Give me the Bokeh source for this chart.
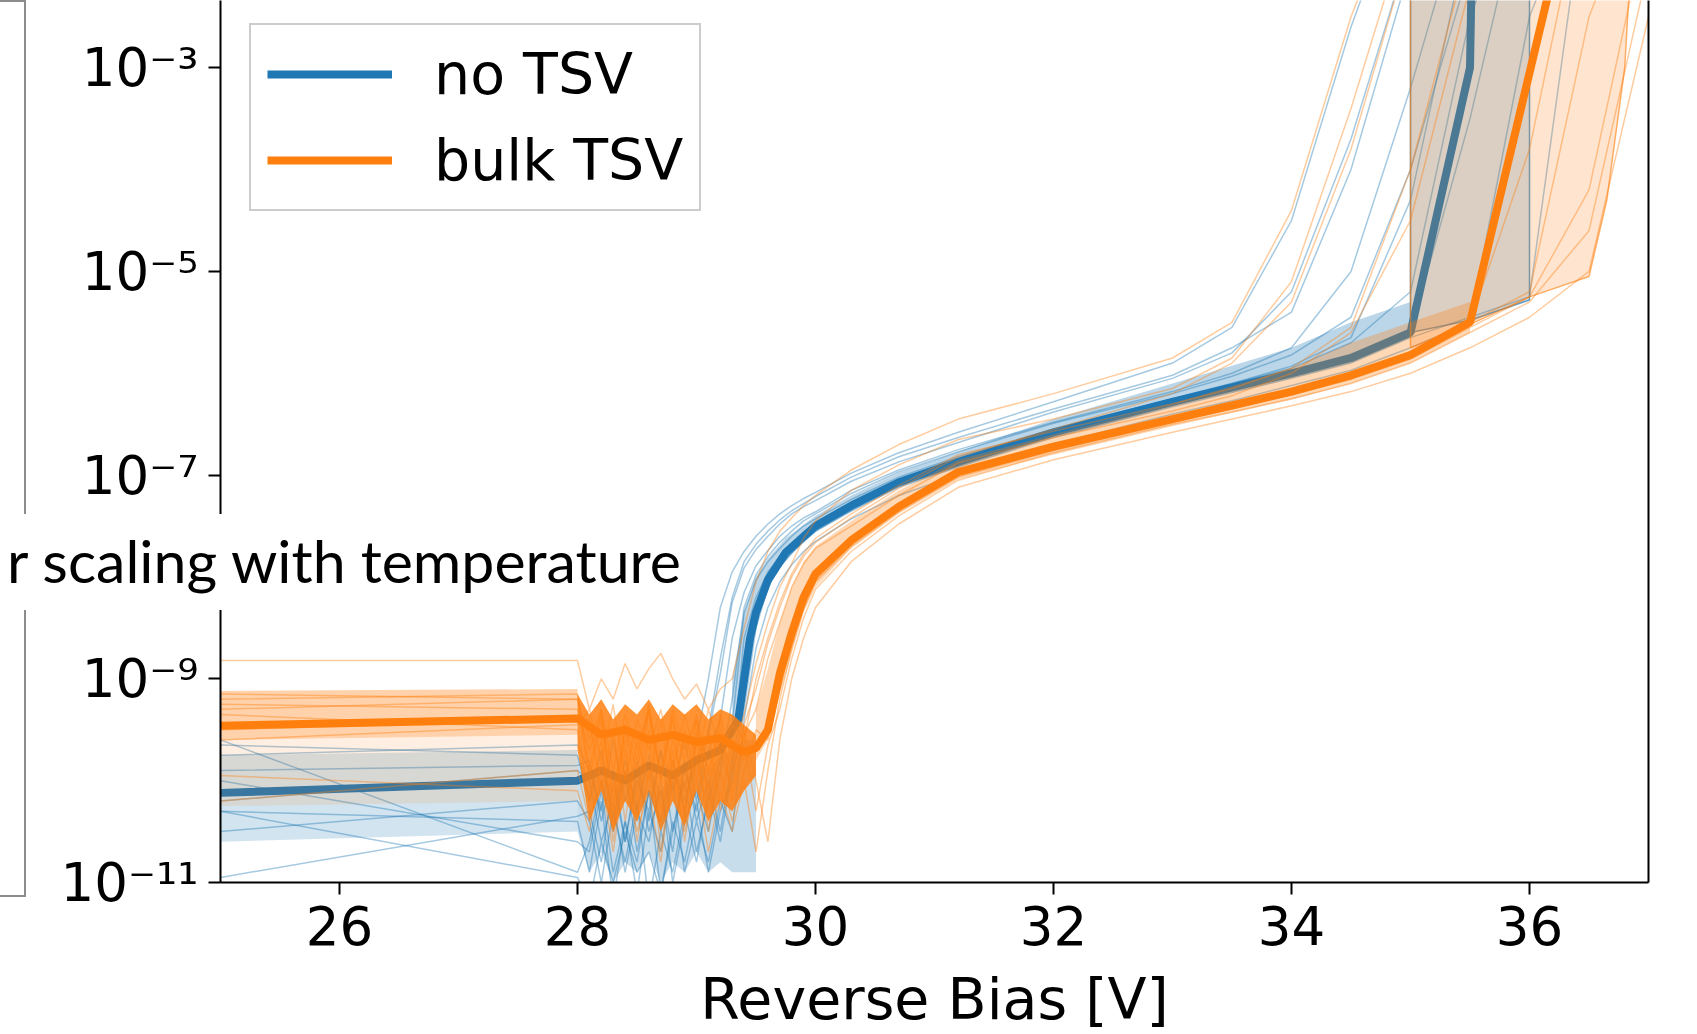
import numpy as np
from bokeh.plotting import figure
from bokeh.layouts import column
from bokeh.models import (Range1d, FixedTicker, CustomJSTickFormatter, LinearAxis,
                          Legend, LegendItem, Div)
from bokeh.embed import file_html
from bokeh.resources import INLINE

BLUE = "#1f77b4"
ORANGE = "#ff7f0e"

# ---------------- data (log10 of current in A) ----------------
voltage_grid = [25.0, 28.0,
                28.1, 28.2, 28.3, 28.4, 28.5, 28.6, 28.7, 28.8, 28.9, 29.0, 29.1, 29.2, 29.3,
                29.4, 29.5, 29.6, 29.7, 29.8, 29.9, 30.0,
                30.3, 30.7, 31.2, 32.0, 33.0, 33.5, 34.0, 34.5, 35.0, 35.5, 36.0, 36.5, 37.0]

no_tsv_curves_log10 = [
    [-9.65, -9.75, -10.2, -9.7, -10.4, -9.8, -10.3, -9.75, -10.5, -9.9, -10.2, -9.8, -9.55, -8.95, -8.25, -7.91, -7.73, -7.6, -7.48, -7.38, -7.31, -7.25, -7.06, -6.87, -6.68, -6.38, -6.05, -5.8, -5.2, -3.7, -1.8, -1.0, -1.0, -1.0, -1.0],
    [-9.9, -9.85, -9.8, -10.4, -9.9, -10.6, -10.0, -10.3, -9.7, -10.5, -9.9, -10.3, -9.7, -9.4, -8.6, -8.15, -7.89, -7.74, -7.6, -7.5, -7.42, -7.36, -7.15, -6.95, -6.75, -6.48, -6.18, -6.0, -5.75, -5.0, -3.2, -1.2, -1.0, -1.0, -1.0],
    [-10.3, -10.4, -10.9, -10.2, -11.2, -10.4, -10.8, -10.1, -11.1, -10.5, -10.0, -10.7, -10.2, -9.8, -9.45, -8.35, -8.03, -7.85, -7.72, -7.6, -7.5, -7.43, -7.24, -7.02, -6.82, -6.55, -6.25, -6.1, -5.95, -5.7, -5.2, -2.5, -1.0, -1.0, -1.0],
    [-10.5, -10.2, -10.4, -11.0, -10.3, -10.8, -10.2, -11.2, -10.5, -10.9, -10.3, -10.8, -10.1, -10.6, -9.9, -9.1, -8.4, -8.08, -7.9, -7.77, -7.65, -7.55, -7.35, -7.12, -6.92, -6.63, -6.33, -6.19, -6.05, -5.9, -5.65, -5.45, -5.25, -1.0, -1.0],
    [-10.0, -10.6, -10.7, -10.1, -10.9, -10.4, -11.1, -10.3, -10.7, -10.0, -10.9, -10.4, -10.8, -10.2, -10.5, -9.4, -8.7, -8.3, -8.05, -7.88, -7.75, -7.65, -7.43, -7.2, -6.99, -6.7, -6.4, -6.27, -6.12, -5.97, -5.75, -5.5, -2.5, -1.0, -1.0],
    [-9.6, -10.9, -10.6, -10.0, -10.5, -9.9, -10.7, -10.1, -10.4, -9.8, -10.3, -9.6, -9.0, -8.3, -7.95, -7.75, -7.6, -7.48, -7.38, -7.3, -7.23, -7.17, -6.98, -6.78, -6.58, -6.28, -5.9, -5.55, -4.5, -2.6, -1.0, -1.0, -1.0, -1.0, -1.0],
    [-10.95, -10.35, -10.3, -10.8, -10.0, -10.6, -9.9, -10.5, -10.1, -10.7, -9.8, -10.4, -10.0, -10.5, -9.8, -8.6, -8.2, -7.95, -7.8, -7.67, -7.56, -7.47, -7.27, -7.05, -6.85, -6.56, -6.25, -6.1, -5.93, -5.65, -4.3, -1.6, -1.0, -1.0, -1.0],
    [-10.2, -9.9, -10.0, -10.6, -10.2, -10.9, -10.3, -10.6, -10.0, -11.0, -10.4, -10.1, -10.5, -9.9, -9.2, -8.3, -7.98, -7.8, -7.66, -7.55, -7.45, -7.38, -7.18, -6.97, -6.77, -6.49, -6.2, -6.03, -5.82, -5.45, -4.0, -2.0, -1.0, -1.0, -1.0],
    [-10.3, -10.95, -11.2, -10.6, -11.0, -10.5, -10.9, -10.7, -11.1, -10.4, -10.8, -10.2, -10.9, -10.3, -10.0, -9.3, -8.5, -8.1, -7.9, -7.76, -7.64, -7.54, -7.33, -7.1, -6.89, -6.6, -6.3, -6.16, -6.02, -5.87, -5.6, -3.5, -1.0, -1.0, -1.0],
    [-9.75, -9.65, -9.9, -10.3, -9.6, -10.2, -9.8, -10.4, -9.7, -10.1, -9.6, -10.2, -9.5, -8.8, -8.2, -7.85, -7.68, -7.55, -7.44, -7.35, -7.28, -7.21, -7.02, -6.82, -6.63, -6.35, -6.02, -5.75, -5.4, -4.0, -2.0, -1.0, -1.0, -1.0, -1.0],
]

bulk_tsv_curves_log10 = [
    [-9.15, -9.2, -9.6, -9.3, -9.9, -9.35, -9.7, -9.3, -10.0, -9.4, -9.8, -9.35, -9.9, -9.5, -9.7, -9.35, -8.85, -8.45, -8.1, -7.87, -7.62, -7.45, -7.15, -6.9, -6.65, -6.45, -6.15, -5.85, -5.1, -3.4, -1.5, -1.0, -1.0, -1.0, -1.0],
    [-9.3, -9.2, -10.0, -9.4, -10.2, -9.5, -9.9, -9.3, -10.3, -9.6, -10.1, -9.4, -10.2, -9.6, -9.9, -9.55, -9.3, -8.8, -8.45, -8.1, -7.87, -7.72, -7.5, -7.2, -6.88, -6.63, -6.37, -6.22, -6.0, -5.6, -4.5, -2.2, -1.0, -1.0, -1.0],
    [-9.5, -9.4, -9.4, -10.1, -9.5, -10.4, -9.6, -10.0, -9.4, -10.2, -9.5, -10.0, -9.5, -10.3, -9.6, -9.8, -9.65, -9.45, -8.95, -8.55, -8.2, -7.97, -7.64, -7.31, -6.98, -6.72, -6.45, -6.32, -6.18, -6.02, -5.82, -5.5, -5.2, -2.5, -1.0],
    [-9.2, -9.15, -9.9, -9.3, -10.5, -9.45, -10.2, -9.3, -9.9, -9.35, -10.4, -9.5, -10.1, -9.4, -10.2, -9.6, -10.3, -9.65, -9.3, -8.8, -8.4, -8.12, -7.75, -7.4, -7.05, -6.78, -6.5, -6.38, -6.25, -6.1, -5.9, -5.6, -5.3, -4.6, -2.0],
    [-9.35, -9.5, -10.2, -9.6, -10.6, -9.7, -10.4, -9.5, -10.7, -9.8, -10.3, -9.6, -10.5, -9.7, -10.1, -9.5, -10.0, -10.6, -9.6, -9.0, -8.6, -8.3, -7.85, -7.48, -7.12, -6.85, -6.58, -6.45, -6.32, -6.18, -6.0, -5.75, -5.45, -5.0, -2.5],
    [-9.6, -9.45, -9.3, -9.8, -9.25, -10.0, -9.4, -9.7, -9.3, -9.9, -9.35, -9.8, -9.3, -9.7, -9.45, -9.6, -9.0, -8.6, -8.25, -7.97, -7.77, -7.62, -7.38, -7.1, -6.8, -6.57, -6.3, -6.15, -5.95, -5.55, -4.0, -1.8, -1.0, -1.0, -1.0],
    [-8.82, -8.82, -9.3, -9.0, -9.2, -8.85, -9.1, -8.9, -8.75, -9.0, -9.2, -9.05, -9.3, -9.1, -9.0, -8.5, -8.05, -7.75, -7.55, -7.42, -7.3, -7.2, -6.95, -6.7, -6.45, -6.2, -5.85, -5.5, -4.4, -2.5, -1.0, -1.0, -1.0, -1.0, -1.0],
    [-9.95, -10.1, -10.5, -9.8, -10.3, -9.6, -10.6, -9.9, -10.4, -9.7, -10.6, -9.8, -10.3, -9.9, -10.4, -9.9, -9.5, -9.6, -9.1, -8.65, -8.3, -8.03, -7.68, -7.34, -7.0, -6.75, -6.47, -6.35, -6.21, -6.06, -5.86, -5.55, -5.25, -4.2, -1.5],
    [-9.25, -9.3, -9.7, -9.35, -10.1, -9.45, -9.8, -9.25, -10.0, -9.3, -9.7, -9.4, -9.95, -9.35, -9.8, -9.45, -9.1, -8.65, -8.3, -8.0, -7.8, -7.66, -7.42, -7.13, -6.82, -6.55, -6.2, -5.9, -5.3, -3.8, -1.8, -1.0, -1.0, -1.0, -1.0],
    [-10.2, -9.9, -10.4, -10.0, -10.7, -9.9, -10.5, -10.1, -10.8, -9.9, -10.5, -10.0, -10.7, -10.1, -10.5, -10.0, -10.7, -9.9, -9.2, -8.7, -8.32, -8.05, -7.7, -7.36, -7.02, -6.76, -6.48, -6.35, -6.2, -6.05, -5.85, -5.5, -3.8, -1.0, -1.0],
]

no_tsv_median_v = [25.0, 28.0, 28.2, 28.4, 28.6, 28.8, 29.0, 29.2, 29.3, 29.35, 29.45, 29.5, 29.6, 29.75,
                   30.0, 30.3, 30.7, 31.2, 32.0, 33.0, 34.0, 34.5, 35.0, 35.5, 35.53]
no_tsv_median_log10 = [-10.12, -10.0, -9.9, -10.0, -9.85, -9.95, -9.8, -9.7, -9.5, -9.41, -8.6, -8.35, -8.03, -7.76,
                       -7.5, -7.3, -7.07, -6.87, -6.58, -6.28, -6.0, -5.85, -5.6, -3.0, -1.0]

bulk_tsv_median_v = [25.0, 28.0, 28.2, 28.4, 28.6, 28.8, 29.0, 29.2, 29.4, 29.5, 29.6, 29.7, 29.8, 29.9,
                     30.0, 30.3, 30.7, 31.2, 32.0, 33.0, 34.0, 34.5, 35.0, 35.5, 36.0, 36.5]
bulk_tsv_median_log10 = [-9.46, -9.39, -9.55, -9.5, -9.6, -9.55, -9.62, -9.58, -9.72, -9.68, -9.5, -8.95, -8.55, -8.2,
                         -7.97, -7.64, -7.31, -6.97, -6.72, -6.45, -6.18, -6.02, -5.82, -5.5, -3.05, -0.6]

# envelopes of the densely overlapping curves
left_band_v = [25.0, 28.0]
bulk_left_lo = [-9.6, -9.55]
bulk_left_hi = [-9.12, -9.1]
mixed_left_lo = [-10.25, -10.2]
mixed_left_hi = [-9.6, -9.55]
no_left_lo = [-10.6, -10.5]
no_left_hi = [-9.75, -9.7]

noise_band_v = [28.0, 28.1, 28.2, 28.3, 28.4, 28.5, 28.6, 28.7, 28.8, 28.9, 29.0, 29.1, 29.2, 29.3, 29.4, 29.5]
bulk_noise_hi = [-9.15, -9.35, -9.2, -9.4, -9.25, -9.35, -9.2, -9.4, -9.25, -9.35, -9.25, -9.4, -9.3, -9.35, -9.45, -9.55]
bulk_noise_lo = [-9.7, -10.4, -10.1, -10.5, -10.2, -10.4, -10.1, -10.5, -10.2, -10.45, -10.1, -10.4, -10.2, -10.3, -10.1, -9.95]
no_noise_hi = [-9.75, -10.0, -9.9, -10.1, -9.9, -10.0, -9.85, -10.1, -9.9, -10.0, -9.8, -9.9, -9.75, -9.7, -9.6, -9.6]
no_noise_lo = [-10.5, -10.9, -10.7, -11.0, -10.8, -10.9, -10.7, -11.0, -10.8, -10.9, -10.7, -10.9, -10.8, -10.9, -10.9, -10.9]

no_core_v = [29.3, 29.4, 29.5, 29.6, 29.75, 30.0, 30.3, 30.7, 31.2, 32.0, 33.0, 34.0, 34.5, 35.0]
no_core_hi = [-9.0, -8.35, -8.0, -7.82, -7.62, -7.4, -7.2, -6.98, -6.77, -6.45, -6.1, -5.75, -5.5, -5.3]
no_core_lo = [-9.6, -9.2, -8.45, -8.1, -7.82, -7.56, -7.36, -7.12, -6.92, -6.63, -6.33, -6.05, -5.9, -5.65]

bulk_core_v = [29.5, 29.6, 29.7, 29.8, 29.9, 30.0, 30.3, 30.7, 31.2, 32.0, 33.0, 34.0, 34.5, 35.0, 35.5]
bulk_core_hi = [-9.3, -8.9, -8.45, -8.1, -7.85, -7.7, -7.45, -7.15, -6.85, -6.6, -6.3, -5.95, -5.7, -5.5, -5.3]
bulk_core_lo = [-9.8, -9.6, -9.15, -8.75, -8.35, -8.1, -7.72, -7.38, -7.04, -6.8, -6.52, -6.26, -6.1, -5.9, -5.6]

# spread bands at breakdown
no_tsv_band_v = [35.0, 35.0, 35.5, 36.0, 36.0]
no_tsv_band_log10 = [-1.0, -5.6, -5.48, -5.28, -1.0]
bulk_tsv_band_v = [35.0, 35.0, 35.5, 36.0, 36.5, 36.65, 36.8, 36.9]
bulk_tsv_band_log10 = [-1.0, -5.75, -5.52, -5.25, -5.05, -4.3, -3.0, -1.0]

x_ticks = [26, 28, 30, 32, 34, 36]
y_tick_exponents = [-11, -9, -7, -5, -3]
y_tick_labels = ["10\u207b\u00b9\u00b9", "10\u207b\u2079", "10\u207b\u2077", "10\u207b\u2075", "10\u207b\u00b3"]
series_labels = ["no TSV", "bulk TSV"]
caption_text = "r scaling with temperature"


def cur(a):
    return list(10.0 ** np.asarray(a, dtype=float))


# ---------------- figure ----------------
p = figure(width=1697, height=1034, x_range=Range1d(25, 37), y_range=Range1d(1e-11, 10 ** -2.34),
           y_axis_type="log", output_backend="svg", toolbar_location=None,
           min_border_left=220, min_border_right=49, min_border_top=0, min_border_bottom=152)
p.outline_line_color = None
p.grid.visible = False
p.background_fill_color = "white"
p.border_fill_color = "white"

# no TSV group
p.varea(x=left_band_v, y1=cur(no_left_lo), y2=cur(no_left_hi), fill_color=BLUE, fill_alpha=0.2)
p.varea(x=noise_band_v, y1=cur(no_noise_lo), y2=cur(no_noise_hi), fill_color=BLUE, fill_alpha=0.25)
p.varea(x=no_core_v, y1=cur(no_core_lo), y2=cur(no_core_hi), fill_color=BLUE, fill_alpha=0.3)
p.multi_line(xs=[voltage_grid] * len(no_tsv_curves_log10), ys=[cur(c) for c in no_tsv_curves_log10],
             line_color=BLUE, line_alpha=0.4, line_width=1.5)
p.patch(x=no_tsv_band_v, y=cur(no_tsv_band_log10), fill_color=BLUE, fill_alpha=0.2,
        line_color=BLUE, line_alpha=0.7, line_width=1.5)
blue_med = p.line(no_tsv_median_v, cur(no_tsv_median_log10), line_color=BLUE, line_width=8)

# bulk TSV group
p.varea(x=left_band_v, y1=cur(mixed_left_lo), y2=cur(mixed_left_hi), fill_color=ORANGE, fill_alpha=0.12)
p.varea(x=left_band_v, y1=cur(bulk_left_lo), y2=cur(bulk_left_hi), fill_color=ORANGE, fill_alpha=0.35)
p.varea(x=bulk_core_v, y1=cur(bulk_core_lo), y2=cur(bulk_core_hi), fill_color=ORANGE, fill_alpha=0.3)
p.multi_line(xs=[voltage_grid] * len(bulk_tsv_curves_log10), ys=[cur(c) for c in bulk_tsv_curves_log10],
             line_color=ORANGE, line_alpha=0.4, line_width=1.5)
p.varea(x=noise_band_v, y1=cur(bulk_noise_lo), y2=cur(bulk_noise_hi), fill_color=ORANGE, fill_alpha=0.85)
p.patch(x=bulk_tsv_band_v, y=cur(bulk_tsv_band_log10), fill_color=ORANGE, fill_alpha=0.2,
        line_color=ORANGE, line_alpha=0.6, line_width=1.5)
orange_med = p.line(bulk_tsv_median_v, cur(bulk_tsv_median_log10), line_color=ORANGE, line_width=8)

# ---------------- axes ----------------
xa = p.xaxis[0]
xa.ticker = FixedTicker(ticks=x_ticks, minor_ticks=[])
xa.axis_label = "Reverse Bias [V]"
xa.axis_label_text_font = "DejaVu Sans"
xa.axis_label_text_font_size = "57px"
xa.axis_label_text_font_style = "normal"
xa.axis_label_text_color = "black"
xa.axis_label_standoff = 18
xa.major_label_text_font = "DejaVu Sans"
xa.major_label_text_font_size = "53px"
xa.major_label_text_color = "black"
xa.major_label_standoff = 11
xa.major_tick_out = 12
xa.major_tick_in = 0
xa.minor_tick_out = 0
xa.minor_tick_in = 0
xa.axis_line_width = 2
xa.major_tick_line_width = 2
xa.axis_line_color = "black"

ya = p.yaxis[0]
ya.ticker = FixedTicker(ticks=[10.0 ** e for e in y_tick_exponents], minor_ticks=[])
ya.formatter = CustomJSTickFormatter(args=dict(exps=y_tick_exponents, labels=y_tick_labels), code="""
    const e = Math.round(Math.log10(tick));
    const i = exps.indexOf(e);
    return i >= 0 ? labels[i] : "";
""")
ya.major_label_text_font = "DejaVu Sans"
ya.major_label_text_font_size = "53px"
ya.major_label_text_color = "black"
ya.major_label_standoff = 10
ya.major_tick_out = 12
ya.major_tick_in = 0
ya.minor_tick_out = 0
ya.minor_tick_in = 0
ya.axis_line_width = 2
ya.major_tick_line_width = 2
ya.axis_line_color = "black"

right_spine = LinearAxis(ticker=FixedTicker(ticks=[]), major_label_text_font_size="0px",
                         major_tick_out=0, major_tick_in=0, minor_tick_out=0, minor_tick_in=0,
                         major_label_standoff=0, axis_line_width=2, axis_line_color="black")
p.add_layout(right_spine, "right")

# ---------------- legend ----------------
legend = Legend(items=[LegendItem(label=series_labels[0], renderers=[blue_med]),
                       LegendItem(label=series_labels[1], renderers=[orange_med])],
                location=(29, 671), label_text_font="DejaVu Sans", label_text_font_size="57px",
                label_text_color="black",
                glyph_width=125, glyph_height=40, label_standoff=42, padding=16, spacing=20, margin=0,
                border_line_color="#cccccc", border_line_width=2, border_line_alpha=1.0,
                background_fill_color="white", background_fill_alpha=0.85)
p.add_layout(legend)

# ---------------- slide elements around the chart ----------------
panel_frame = Div(text="", width=54, height=897,
                  styles={"position": "absolute", "left": "-33px", "top": "-5px",
                          "border-top": "2.5px solid #8c8c8c", "border-right": "2.5px solid #8c8c8c",
                          "border-bottom": "2.5px solid #8c8c8c", "box-sizing": "border-box",
                          "z-index": "5"})
caption = Div(text=('<div style="position:absolute; right:21px; top:-1px; font-family: Lato; '
                    'font-size: 59px; line-height: 96px; white-space: nowrap; color: black;">'
                    + caption_text + '</div>'),
              width=697, height=96,
              styles={"position": "absolute", "left": "0px", "top": "509px",
                      "background-color": "white", "overflow": "hidden", "z-index": "10"})

root = column(p, panel_frame, caption)
open("out.html", "w").write(file_html(root, INLINE))
